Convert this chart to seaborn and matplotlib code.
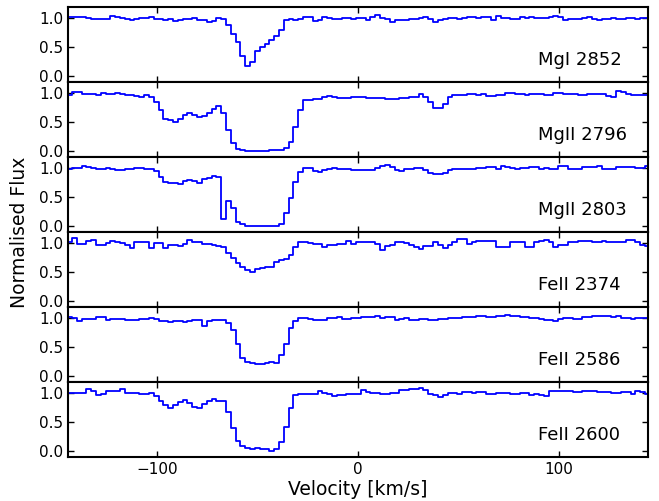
import numpy as np
import pandas as pd
import matplotlib
matplotlib.use("Agg")
import matplotlib.pyplot as plt
import seaborn as sns

# Velocity bin centres [km/s]
velocity = [
    -143.7, -141.3, -138.9, -136.5, -134.1, -131.7, -129.3, -126.9, -124.5, -122.1,
    -119.7, -117.3, -114.9, -112.5, -110.1, -107.7, -105.3, -102.9, -100.5, -98.1,
    -95.7, -93.3, -90.9, -88.5, -86.1, -83.7, -81.3, -78.9, -76.5, -74.1,
    -71.7, -69.3, -66.9, -64.5, -62.1, -59.7, -57.3, -54.9, -52.5, -50.1,
    -47.7, -45.3, -42.9, -40.5, -38.1, -35.7, -33.3, -30.9, -28.5, -26.1,
    -23.7, -21.3, -18.9, -16.5, -14.1, -11.7, -9.3, -6.9, -4.5, -2.1,
    0.3, 2.7, 5.1, 7.5, 9.9, 12.3, 14.7, 17.1, 19.5, 21.9,
    24.3, 26.7, 29.1, 31.5, 33.9, 36.3, 38.7, 41.1, 43.5, 45.9,
    48.3, 50.7, 53.1, 55.5, 57.9, 60.3, 62.7, 65.1, 67.5, 69.9,
    72.3, 74.7, 77.1, 79.5, 81.9, 84.3, 86.7, 89.1, 91.5, 93.9,
    96.3, 98.7, 101.1, 103.5, 105.9, 108.3, 110.7, 113.1, 115.5, 117.9,
    120.3, 122.7, 125.1, 127.5, 129.9, 132.3, 134.7, 137.1, 139.5, 141.9,
    144.3,
]

transitions = ["MgI 2852", "MgII 2796", "MgII 2803", "FeII 2374", "FeII 2586", "FeII 2600"]

flux_mgi_2852 = [
    1.02, 1.02, 1.01, 1.01, 1.00, 0.99, 0.99, 0.98, 0.99, 1.03,
    1.02, 1.00, 0.99, 0.97, 0.98, 1.00, 1.00, 1.01, 0.99, 0.99,
    0.97, 0.98, 0.95, 0.97, 0.99, 0.98, 1.00, 0.97, 0.96, 0.93,
    0.95, 1.00, 0.98, 0.88, 0.73, 0.59, 0.35, 0.17, 0.25, 0.43,
    0.51, 0.56, 0.62, 0.69, 0.80, 0.96, 0.98, 0.96, 0.99, 1.01,
    1.02, 0.95, 0.97, 1.02, 1.00, 0.99, 0.99, 1.00, 1.00, 0.99,
    1.00, 1.00, 0.97, 1.02, 1.05, 1.00, 0.99, 0.94, 0.96, 0.96,
    0.97, 0.98, 0.98, 1.00, 1.01, 0.99, 0.94, 0.97, 0.98, 1.00,
    1.00, 0.99, 1.00, 1.01, 1.01, 1.00, 1.01, 1.02, 0.97, 1.04,
    1.00, 1.00, 0.98, 0.98, 1.01, 1.00, 1.01, 1.00, 1.00, 1.00,
    1.01, 1.03, 1.02, 0.97, 0.98, 0.99, 0.99, 1.00, 1.01, 0.99,
    0.97, 0.98, 0.98, 1.00, 0.99, 0.99, 1.00, 1.00, 0.99, 1.00,
    1.00,
]

flux_mgii_2796 = [
    0.97, 1.01, 1.01, 0.99, 0.99, 0.98, 0.97, 1.00, 0.99, 0.99,
    1.00, 0.98, 0.97, 0.96, 0.95, 0.93, 0.96, 0.94, 0.84, 0.71,
    0.55, 0.53, 0.51, 0.56, 0.62, 0.65, 0.63, 0.58, 0.60, 0.65,
    0.72, 0.78, 0.65, 0.37, 0.14, 0.04, 0.02, 0.01, 0.01, 0.01,
    0.01, 0.01, 0.02, 0.02, 0.02, 0.06, 0.16, 0.41, 0.70, 0.88,
    0.88, 0.90, 0.90, 0.94, 0.95, 0.93, 0.92, 0.92, 0.92, 0.93,
    0.94, 0.94, 0.92, 0.92, 0.91, 0.91, 0.90, 0.89, 0.89, 0.92,
    0.92, 0.94, 0.94, 0.98, 0.94, 0.84, 0.74, 0.74, 0.82, 0.94,
    0.97, 0.97, 0.97, 0.99, 0.99, 0.96, 0.98, 0.95, 0.95, 0.97,
    0.97, 1.00, 1.00, 0.99, 0.99, 0.97, 0.99, 0.99, 0.99, 0.97,
    0.96, 1.00, 1.00, 0.99, 0.99, 0.98, 0.97, 0.97, 0.98, 0.98,
    0.99, 0.99, 0.95, 0.93, 1.03, 1.01, 0.98, 0.97, 0.97, 0.97,
    0.97,
]

flux_mgii_2803 = [
    0.98, 1.00, 1.00, 1.03, 1.01, 1.00, 0.99, 0.99, 1.00, 0.98,
    0.96, 0.96, 0.99, 0.99, 1.00, 1.00, 0.99, 0.98, 0.95, 0.85,
    0.76, 0.75, 0.74, 0.72, 0.78, 0.79, 0.78, 0.75, 0.81, 0.82,
    0.87, 0.84, 0.13, 0.43, 0.31, 0.08, 0.03, 0.01, 0.005, 0.005,
    0.005, 0.005, 0.005, 0.01, 0.04, 0.22, 0.48, 0.76, 0.93, 1.00,
    1.00, 0.95, 0.94, 0.97, 0.99, 1.00, 0.99, 0.99, 0.98, 0.97,
    0.96, 0.96, 0.97, 0.97, 1.00, 1.03, 1.06, 1.01, 0.97, 0.95,
    0.99, 0.99, 1.00, 1.00, 0.97, 0.92, 0.89, 0.89, 0.92, 0.97,
    0.98, 0.99, 0.99, 0.99, 0.99, 1.00, 1.00, 1.02, 1.02, 0.99,
    1.03, 1.01, 1.00, 0.99, 1.00, 1.00, 1.01, 1.01, 0.99, 1.00,
    0.98, 0.98, 1.03, 1.03, 0.99, 0.99, 0.99, 1.01, 1.01, 1.01,
    1.04, 0.98, 0.99, 0.99, 1.01, 1.01, 1.01, 1.01, 1.00, 1.00,
    1.03,
]

flux_feii_2374 = [
    1.02, 1.08, 0.98, 0.98, 1.04, 1.06, 0.97, 0.97, 1.00, 1.03,
    1.01, 1.00, 0.97, 0.91, 1.01, 1.01, 1.02, 0.92, 1.00, 1.00,
    0.91, 0.97, 0.97, 0.94, 0.99, 1.06, 1.02, 1.01, 0.98, 0.98,
    0.96, 0.94, 0.93, 0.82, 0.74, 0.65, 0.58, 0.53, 0.50, 0.55,
    0.57, 0.58, 0.58, 0.67, 0.71, 0.72, 0.80, 0.93, 1.01, 1.01,
    1.00, 0.99, 0.99, 0.93, 0.96, 0.97, 0.98, 0.98, 1.03, 0.99,
    1.02, 1.01, 1.02, 1.02, 0.99, 0.88, 0.94, 0.96, 1.02, 1.01,
    1.00, 0.96, 0.93, 0.89, 0.94, 0.94, 1.01, 0.97, 0.92, 0.96,
    1.01, 1.07, 1.07, 0.98, 1.01, 1.03, 1.03, 1.04, 1.04, 0.93,
    0.93, 0.93, 1.02, 1.02, 1.01, 0.93, 0.93, 1.01, 1.04, 1.06,
    1.01, 0.93, 0.97, 0.97, 1.02, 1.02, 1.03, 1.03, 1.04, 1.01,
    1.01, 1.03, 1.02, 1.01, 1.02, 1.02, 1.06, 1.06, 1.02, 0.96,
    0.95,
]

flux_feii_2586 = [
    1.01, 1.00, 0.95, 0.99, 0.98, 0.99, 1.01, 1.01, 0.97, 0.98,
    0.98, 0.98, 0.96, 0.97, 0.97, 0.98, 0.99, 1.00, 0.98, 0.94,
    0.94, 0.93, 0.94, 0.94, 0.93, 0.95, 0.96, 0.96, 0.87, 0.95,
    0.96, 0.97, 0.97, 0.91, 0.79, 0.55, 0.32, 0.25, 0.22, 0.21,
    0.21, 0.23, 0.24, 0.22, 0.37, 0.55, 0.82, 0.94, 1.00, 1.00,
    0.98, 0.97, 0.96, 0.96, 1.00, 1.00, 1.01, 0.98, 0.99, 1.00,
    1.00, 1.01, 1.01, 1.02, 1.03, 1.00, 1.01, 1.01, 0.97, 0.99,
    1.00, 0.97, 0.97, 0.98, 0.98, 0.97, 0.97, 0.98, 0.98, 1.00,
    1.00, 1.00, 1.01, 1.01, 1.01, 1.03, 1.03, 1.01, 1.01, 1.03,
    1.03, 1.05, 1.03, 1.03, 1.01, 1.01, 1.00, 1.00, 0.98, 0.97,
    0.97, 0.95, 0.98, 1.00, 1.00, 0.98, 0.99, 1.01, 1.01, 1.04,
    1.04, 1.03, 1.03, 1.01, 1.03, 1.00, 1.00, 0.99, 1.00, 1.00,
    1.00,
]

flux_feii_2600 = [
    1.00, 1.00, 1.00, 1.00, 1.06, 1.04, 0.97, 0.98, 1.03, 1.03,
    1.04, 1.07, 1.00, 1.00, 1.00, 0.98, 0.98, 1.00, 0.94, 0.87,
    0.79, 0.74, 0.79, 0.84, 0.88, 0.82, 0.76, 0.75, 0.81, 0.86,
    0.89, 0.86, 0.86, 0.67, 0.40, 0.18, 0.08, 0.05, 0.04, 0.05,
    0.04, 0.03, 0.01, 0.03, 0.15, 0.41, 0.74, 0.97, 0.98, 0.98,
    0.98, 0.99, 1.03, 1.00, 0.98, 0.94, 0.97, 0.97, 0.99, 0.99,
    0.99, 1.05, 1.01, 1.00, 1.00, 0.98, 0.98, 1.00, 1.00, 1.05,
    1.05, 1.07, 1.07, 1.09, 1.05, 0.98, 0.97, 0.93, 0.97, 1.00,
    1.00, 0.99, 1.01, 1.01, 1.00, 1.01, 1.01, 0.99, 0.99, 1.00,
    1.00, 1.00, 0.98, 0.99, 1.00, 1.00, 0.97, 0.99, 0.97, 0.95,
    1.03, 1.04, 1.03, 1.03, 1.03, 1.02, 1.02, 1.04, 1.04, 1.03,
    1.02, 1.01, 1.01, 1.00, 1.00, 1.01, 1.01, 0.98, 1.04, 1.01,
    0.99,
]

all_flux = [flux_mgi_2852, flux_mgii_2796, flux_mgii_2803,
            flux_feii_2374, flux_feii_2586, flux_feii_2600]

sns.set_theme(style="ticks", rc={
    "axes.linewidth": 1.5,
    "axes.edgecolor": "black",
    "axes.labelcolor": "black",
    "text.color": "black",
    "xtick.color": "black",
    "ytick.color": "black",
    "xtick.direction": "in",
    "ytick.direction": "in",
    "xtick.top": True,
    "ytick.right": True,
    "xtick.major.size": 4,
    "ytick.major.size": 4,
    "xtick.major.width": 1.0,
    "ytick.major.width": 1.0,
    "xtick.labelsize": 11,
    "ytick.labelsize": 11,
})
plt.rcParams["font.family"] = ["DejaVu Sans"]

fig, axes = plt.subplots(6, 1, figsize=(6.59, 5.01), dpi=100, sharex=True)
fig.subplots_adjust(left=0.103, right=0.983, top=0.986, bottom=0.088, hspace=0)

for ax, name, flux in zip(axes, transitions, all_flux):
    df = pd.DataFrame({"velocity": velocity, "flux": flux})
    sns.lineplot(data=df, x="velocity", y="flux", ax=ax, color="blue",
                 linewidth=1.3, drawstyle="steps-mid", errorbar=None,
                 estimator=None, legend=False)
    ax.set_xlim(-144.5, 144.5)
    ax.set_ylim(-0.1, 1.19)
    ax.set_yticks([0.0, 0.5, 1.0])
    ax.set_yticklabels(["0.0", "0.5", "1.0"])
    ax.set_xticks([-100, 0, 100])
    ax.set_xlabel("")
    ax.set_ylabel("")
    ax.tick_params(which="both", top=True, right=True, direction="in",
                   colors="black")
    ax.text(0.81, 0.225, name, transform=ax.transAxes, fontsize=13,
            ha="left", va="baseline", color="black")

axes[-1].set_xticklabels(["\u2212100", "0", "100"])
fig.text(0.543, 0.022, "Velocity [km/s]", ha="center", va="center",
         fontsize=13.5, color="black")
fig.text(0.03, 0.537, "Normalised Flux", ha="center", va="center",
         rotation=90, fontsize=13.5, color="black")

fig.savefig("out.png", dpi=100)
